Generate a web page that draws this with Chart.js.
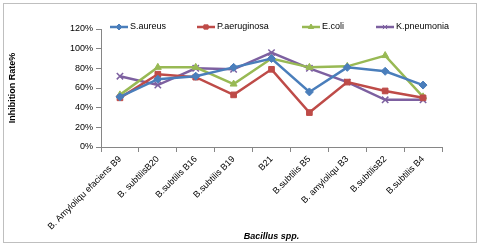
<!DOCTYPE html>
<html>
<head>
<meta charset="utf-8">
<script src="https://cdn.jsdelivr.net/npm/chart.js@4"></script>
<style>
    html, body { margin: 0; padding: 0; background: #fff; }
    #wrap { width: 480px; height: 246px; }
</style>
</head>
<body>
<div id="wrap"><canvas id="inhibition"></canvas></div>
<script>
// data (percent)
const strains = [
    "B. Amyloliqu efaciens B9",
    "B. subtilisB20",
    "B.subtilis B16",
    "B.subtilis B19",
    "B21",
    "B.subtilis B5",
    "B. amyloliqu B3",
    "B.subtilisB2",
    "B.subtilis B4",
];
const sAureus = [51, 69, 72, 81, 90, 56, 81, 77, 63];
const pAeruginosa = [50, 74, 71, 53, 79, 35, 66, 57, 50];
const eColi = [53, 81, 81, 64, 90, 81, 82, 93, 51];
const kPneumonia = [72, 63, 80, 79, 96, 80, 66, 48, 48];
const yTicks = [0, 20, 40, 60, 80, 100, 120];

const FONT = "'Liberation Sans Narrow', 'Liberation Sans', Arial, sans-serif";

function series(label, data, color, style) {
    return {
        label: label,
        data: data,
        borderColor: color,
        backgroundColor: color,
        borderWidth: 2.5,
        pointStyle: style,
        pointRadius: style === "crossRot" ? 4.5 : 4,
        pointBorderWidth: style === "crossRot" ? 1.5 : 1,
        pointBorderColor: color,
        tension: 0,
    };
}

// custom legend sitting beside the top of the plot, plus the outer frame
const frameAndLegend = {
    id: "frameAndLegend",
    afterDraw(chart) {
        const ctx = chart.ctx;
        ctx.save();
        ctx.strokeStyle = "#bfbfbf";
        ctx.lineWidth = 1;
        ctx.strokeRect(3.5, 3.5, 473, 239);

        const spots = [110, 197, 302, 376];
        const y = 27;
        chart.data.datasets.forEach((ds, i) => {
            const x = spots[i];
            ctx.strokeStyle = ds.borderColor;
            ctx.fillStyle = ds.borderColor;
            ctx.lineWidth = 2.5;
            ctx.beginPath();
            ctx.moveTo(x, y);
            ctx.lineTo(x + 18, y);
            ctx.stroke();
            ctx.lineWidth = 1;
            Chart.helpers.drawPoint(ctx, {
                pointStyle: ds.pointStyle,
                radius: 3,
                borderWidth: 1,
            }, x + 9, y);
            ctx.fill();
            ctx.fillStyle = "#000";
            ctx.font = "9px " + FONT;
            ctx.textBaseline = "middle";
            ctx.fillText(ds.label, x + 20, y);
        });
        ctx.restore();
    }
};

new Chart(document.getElementById("inhibition"), {
    type: "line",
    data: {
        labels: strains,
        datasets: [
            series("S.aureus", sAureus, "#4a7ebb", "rectRot"),
            series("P.aeruginosa", pAeruginosa, "#be4b48", "rect"),
            series("E.coli", eColi, "#98b954", "triangle"),
            series("K.pneumonia", kPneumonia, "#7d60a0", "crossRot"),
        ],
    },
    options: {
        responsive: true,
        maintainAspectRatio: false,
        animation: false,
        layout: {
            padding: { left: 0, right: 38, top: 29, bottom: 4 }
        },
        plugins: {
            legend: { display: false },
            tooltip: { enabled: false },
        },
        scales: {
            x: {
                offset: true,
                afterFit(scale) { scale.height = 95; },
                grid: {
                    offset: true,
                    drawOnChartArea: false,
                    tickLength: 5,
                    color: "#868686",
                },
                border: { color: "#868686" },
                ticks: {
                    minRotation: 45,
                    maxRotation: 45,
                    color: "#000",
                    padding: 2,
                    font: { family: FONT, size: 9 },
                },
                title: {
                    display: true,
                    text: "Bacillus spp.",
                    color: "#000",
                    padding: { top: 0, bottom: 0 },
                    font: { family: FONT, size: 9, weight: "bold", style: "italic" },
                },
            },
            y: {
                min: 0,
                max: 120,
                afterFit(scale) { scale.width = 101; },
                afterBuildTicks(scale) {
                    scale.ticks = yTicks.map(v => ({ value: v }));
                },
                grid: {
                    drawOnChartArea: false,
                    tickLength: 5,
                    color: "#868686",
                },
                border: { color: "#868686" },
                ticks: {
                    color: "#000",
                    padding: 3,
                    font: { family: FONT, size: 9 },
                    callback: v => v + "%",
                },
                title: {
                    display: true,
                    text: "Inhibition Rate%",
                    color: "#000",
                    padding: { top: 7, bottom: 0 },
                    font: { family: FONT, size: 9, weight: "bold" },
                },
            },
        },
    },
    plugins: [frameAndLegend],
});
</script>
</body>
</html>
